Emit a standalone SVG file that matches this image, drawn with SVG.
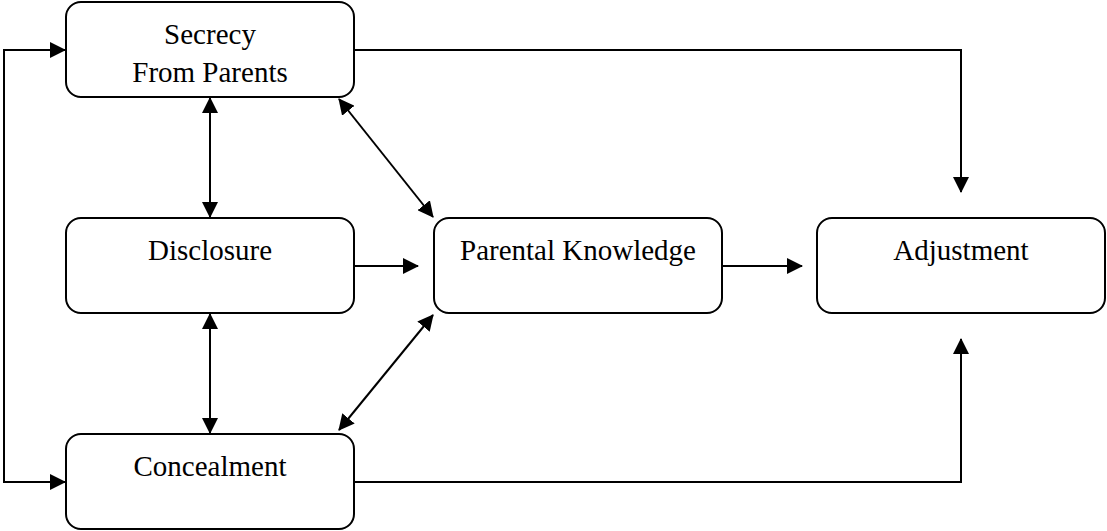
<svg xmlns="http://www.w3.org/2000/svg" width="1107" height="531" viewBox="0 0 1107 531">
<style>
.box{fill:#fff;stroke:#000;stroke-width:2}
.t{font-family:"Liberation Serif","Times New Roman",serif;font-size:29px;fill:#000;text-anchor:middle}
.c{fill:none;stroke:#000;stroke-width:2}
</style>
<defs>
<marker id="ah" viewBox="0 0 16 16" refX="15" refY="8" markerWidth="16" markerHeight="16" markerUnits="userSpaceOnUse" orient="auto-start-reverse">
<path d="M0,0 L16,8 L0,16 z" fill="#000"/>
</marker>
</defs>
<rect width="1107" height="531" fill="#fff"/>
<g id="connectors">
<path class="c" d="M354,50 H961 V192" marker-end="url(#ah)"/>
<path class="c" d="M354,482 H961 V339" marker-end="url(#ah)"/>
<path class="c" d="M65,50 H4 V482 H65" marker-start="url(#ah)" marker-end="url(#ah)"/>
<path class="c" d="M354,266 H418" marker-end="url(#ah)"/>
<path class="c" d="M722,266 H802" marker-end="url(#ah)"/>
<path class="c" d="M210,98 V217" marker-start="url(#ah)" marker-end="url(#ah)"/>
<path class="c" d="M210,314 V433" marker-start="url(#ah)" marker-end="url(#ah)"/>
<path class="c" d="M339,99 L433,217" marker-start="url(#ah)" marker-end="url(#ah)"/>
<path class="c" d="M433,315 L339,430" marker-start="url(#ah)" marker-end="url(#ah)"/>
</g>
<g id="secrecy">
<rect class="box" x="66" y="2" width="288" height="95" rx="15"/>
<text class="t" x="210" y="44">Secrecy</text>
<text class="t" x="210" y="82">From Parents</text>
</g>
<g id="disclosure">
<rect class="box" x="66" y="218" width="288" height="95" rx="15"/>
<text class="t" x="210" y="260">Disclosure</text>
</g>
<g id="concealment">
<rect class="box" x="66" y="434" width="288" height="95" rx="15"/>
<text class="t" x="210" y="476">Concealment</text>
</g>
<g id="parental-knowledge">
<rect class="box" x="434" y="218" width="288" height="95" rx="15"/>
<text class="t" x="578" y="260">Parental Knowledge</text>
</g>
<g id="adjustment">
<rect class="box" x="817" y="218" width="288" height="95" rx="15"/>
<text class="t" x="961" y="260">Adjustment</text>
</g>
</svg>
